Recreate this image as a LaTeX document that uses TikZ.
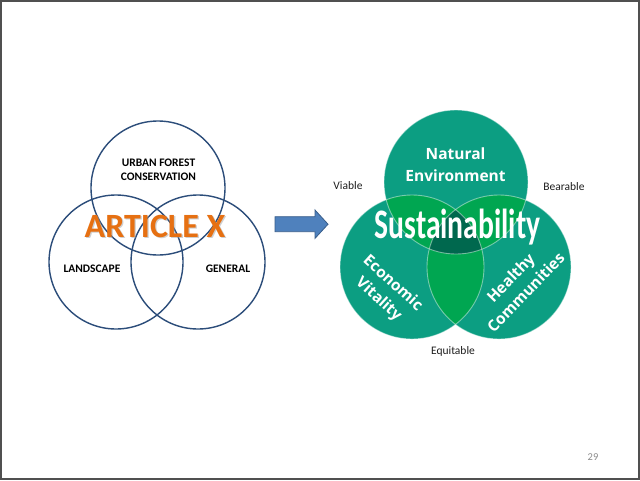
\documentclass[tikz,border=0pt]{standalone}
\usepackage{fontspec}
\setmainfont{Carlito}
\newfontfamily\osans{Open Sans}
\definecolor{venblue}{RGB}{44,77,122}
\definecolor{artorange}{RGB}{230,112,18}
\definecolor{artshadow}{RGB}{150,150,150}
\definecolor{teal}{RGB}{12,158,130}
\definecolor{pairgreen}{RGB}{0,166,81}
\definecolor{coregreen}{RGB}{0,104,78}
\definecolor{arrowfill}{RGB}{79,129,189}
\definecolor{arrowline}{RGB}{56,93,138}
\definecolor{framegray}{RGB}{80,80,80}
\definecolor{pagegray}{RGB}{140,140,140}
\definecolor{labeldark}{RGB}{30,30,30}
\tikzset{
  outline/.style={draw=venblue, line width=1.4pt},
  smalllabel/.style={font=\bfseries\fontsize{11.5}{14}\selectfont, text=black, align=center, inner sep=0pt},
  greenlabel/.style={font=\osans\bfseries\fontsize{15.5}{21}\selectfont, text=white, align=center, inner sep=0pt},
  sidelabel/.style={font=\fontsize{11.5}{14}\selectfont, text=labeldark, inner sep=0pt},
}
\begin{document}
\begin{tikzpicture}[x=1pt,y=-1pt]
\useasboundingbox (0,0) rectangle (640,480);
\fill[white] (0,0) rectangle (640,480);
\draw[framegray, line width=2pt] (1,1) rectangle (639,479);

% ---------- left Venn ----------
\coordinate (ct) at (158,188);
\coordinate (cl) at (116,262);
\coordinate (cr) at (198,262);
\draw[outline] (ct) circle (67);
\draw[outline] (cl) circle (67);
\draw[outline] (cr) circle (67);
\node[smalllabel] (urban) at (158.5,169.5) {URBAN FOREST\\CONSERVATION};
\node[smalllabel] (land) at (92,268.5) {LANDSCAPE};
\node[smalllabel] (gen) at (228,268.5) {GENERAL};
\node[font=\bfseries\fontsize{34}{40}\selectfont, text=artshadow, opacity=0.45, inner sep=0pt] at (156.3,227.8) {ARTICLE X};
\node[font=\bfseries\fontsize{34}{40}\selectfont, text=artorange, inner sep=0pt] (art) at (155,226.5) {ARTICLE X};

% ---------- block arrow ----------
\filldraw[fill=arrowfill, draw=arrowline, line width=0.8pt]
  (275,216.7) -- (315,216.7) -- (315,210) -- (328,224.2) -- (315,238.4)
  -- (315,231.7) -- (275,231.7) -- cycle;

% ---------- right Venn ----------
\coordinate (nt) at (456,182);
\coordinate (nl) at (412,267);
\coordinate (nr) at (499,267);
\def\rr{72}
\fill[teal] (nt) circle (\rr);
\fill[teal] (nl) circle (\rr);
\fill[teal] (nr) circle (\rr);
\begin{scope}
  \clip (nt) circle (\rr);
  \fill[pairgreen] (nl) circle (\rr);
  \fill[pairgreen] (nr) circle (\rr);
\end{scope}
\begin{scope}
  \clip (nl) circle (\rr);
  \fill[pairgreen] (nr) circle (\rr);
\end{scope}
\begin{scope}
  \clip (nt) circle (\rr);
  \clip (nl) circle (\rr);
  \fill[coregreen] (nr) circle (\rr);
\end{scope}
\draw[white, opacity=0.45, line width=0.9pt] (nt) circle (\rr);
\draw[white, opacity=0.45, line width=0.9pt] (nl) circle (\rr);
\draw[white, opacity=0.45, line width=0.9pt] (nr) circle (\rr);

\node[greenlabel, font=\osans\bfseries\fontsize{15.5}{22}\selectfont] (nat) at (455.5,165) {Natural\\Environment};
\node[greenlabel, rotate=-42] (eco) at (385.5,291.5) {Economic\\Vitality};
\node[greenlabel, rotate=46] (hea) at (518,285) {Healthy\\Communities};
\node[font=\bfseries\fontsize{42}{46}\selectfont, text=white, inner sep=0pt, anchor=base, xscale=0.705] (sus) at (457.5,238.5) {Sustainability};

\node[sidelabel] (via) at (348,186) {Viable};
\node[sidelabel] (bea) at (564,187) {Bearable};
\node[sidelabel] (equ) at (453,351) {Equitable};

\node[font=\fontsize{10.5}{12}\selectfont, text=pagegray, inner sep=0pt] (pg) at (593,457) {29};
\end{tikzpicture}
\end{document}
